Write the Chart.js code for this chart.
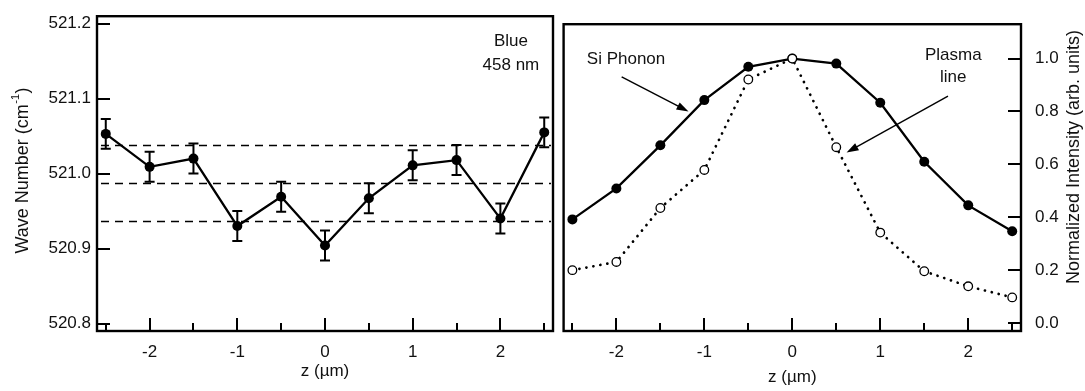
<!DOCTYPE html>
<html>
<head>
<meta charset="utf-8">
<script src="https://cdn.jsdelivr.net/npm/chart.js@4.4.1/dist/chart.umd.min.js"></script>
<style>
  html, body { margin: 0; padding: 0; background: #fff; }
  #wrap { position: relative; width: 1085px; height: 391px; }
  #waveCanvas { position: absolute; left: 0; top: 0; }
  #intensityCanvas { position: absolute; left: 558px; top: 0; }
</style>
</head>
<body>
<div id="wrap">
  <canvas id="waveCanvas" width="558" height="391"></canvas>
  <canvas id="intensityCanvas" width="527" height="391"></canvas>
</div>
<script>
// Depth positions of the focus (µm)
const zPositions = [-2.5, -2, -1.5, -1, -0.5, 0, 0.5, 1, 1.5, 2, 2.5];

// Si phonon peak position (cm^-1) and its uncertainty
const waveNumber = [521.053, 521.009, 521.020, 520.930, 520.969, 520.904, 520.967, 521.011, 521.018, 520.940, 521.055];
const waveError  = [0.020, 0.020, 0.020, 0.020, 0.020, 0.020, 0.020, 0.020, 0.020, 0.020, 0.020];
// Mean level and ± band
const waveLevels = [521.038, 520.987, 520.937];

// Normalized intensities
const siPhonon   = [0.392, 0.509, 0.672, 0.843, 0.969, 1.000, 0.981, 0.833, 0.610, 0.445, 0.347];
const plasmaLine = [0.200, 0.231, 0.435, 0.579, 0.921, 1.000, 0.665, 0.342, 0.196, 0.139, 0.097];

// Tick values
const zMarks         = [-2.5, -2, -1.5, -1, -0.5, 0, 0.5, 1, 1.5, 2, 2.5];
const zLabels        = [-2, -1, 0, 1, 2];
const waveTicks      = [520.8, 520.9, 521.0, 521.1, 521.2];
const intensityTicks = [0.0, 0.2, 0.4, 0.6, 0.8, 1.0];

const FONT = "'Liberation Sans', Arial, sans-serif";
const INK = '#111';

Chart.defaults.font.family = FONT;
Chart.defaults.color = INK;

// Frame, inward tick marks and axis titles
function framePlugin(opts) {
  return {
    id: 'frame_' + opts.name,
    afterDraw(chart) {
      const ctx = chart.ctx;
      const a = chart.chartArea;
      const xs = chart.scales.x, ys = chart.scales.y;
      ctx.save();
      ctx.strokeStyle = '#000';
      ctx.lineWidth = 2.4;
      ctx.lineCap = 'butt';
      ctx.strokeRect(a.left, a.top, a.right - a.left, a.bottom - a.top);
      ctx.lineWidth = 2;
      ctx.beginPath();
      xs.ticks.forEach(t => {
        const px = Math.round(xs.getPixelForValue(t.value));
        const len = zLabels.includes(t.value) ? 13 : 8;
        ctx.moveTo(px, a.bottom);
        ctx.lineTo(px, a.bottom - len);
      });
      ys.ticks.forEach(t => {
        const py = Math.round(ys.getPixelForValue(t.value));
        if (opts.ySide === 'left') {
          ctx.moveTo(a.left, py);
          ctx.lineTo(a.left + 13, py);
        } else {
          ctx.moveTo(a.right, py);
          ctx.lineTo(a.right - 13, py);
        }
      });
      ctx.stroke();

      // x title
      ctx.fillStyle = INK;
      ctx.font = '17px ' + FONT;
      ctx.textAlign = 'center';
      ctx.textBaseline = 'middle';
      ctx.fillText('z (\u00b5m)', xs.getPixelForValue(0), opts.xTitleY);

      // y title (rotated)
      ctx.translate(opts.yTitleX, opts.yTitleY);
      ctx.rotate(-Math.PI / 2);
      ctx.font = '18px ' + FONT;
      if (opts.yTitleSup) {
        const main = opts.yTitle, sup = opts.yTitleSup, tail = opts.yTitleTail;
        const wMain = ctx.measureText(main).width;
        ctx.font = '11px ' + FONT;
        const wSup = ctx.measureText(sup).width;
        ctx.font = '18px ' + FONT;
        const wTail = ctx.measureText(tail).width;
        let x0 = -(wMain + wSup + wTail + 1) / 2;
        ctx.textAlign = 'left';
        ctx.fillText(main, x0, 0);
        ctx.font = '11px ' + FONT;
        ctx.fillText(sup, x0 + wMain + 0.5, -7);
        ctx.font = '18px ' + FONT;
        ctx.fillText(tail, x0 + wMain + wSup + 1, 0);
      } else {
        ctx.fillText(opts.yTitle, 0, 0);
      }
      ctx.restore();
    }
  };
}

// Dashed reference levels and error bars for the peak position panel
const wavePanelPlugin = {
  id: 'wavePanel',
  beforeDatasetsDraw(chart) {
    const ctx = chart.ctx, a = chart.chartArea;
    const xs = chart.scales.x, ys = chart.scales.y;
    ctx.save();
    ctx.strokeStyle = '#000';
    ctx.lineWidth = 1.7;
    ctx.setLineDash([8, 6]);
    ctx.beginPath();
    waveLevels.forEach(v => {
      const py = Math.round(ys.getPixelForValue(v)) + 0.5;
      ctx.moveTo(a.left + 4, py);
      ctx.lineTo(a.right - 2, py);
    });
    ctx.stroke();
    ctx.setLineDash([]);
    ctx.lineWidth = 2;
    ctx.beginPath();
    zPositions.forEach((z, i) => {
      const px = xs.getPixelForValue(z);
      const yTop = ys.getPixelForValue(waveNumber[i] + waveError[i]);
      const yBot = ys.getPixelForValue(waveNumber[i] - waveError[i]);
      ctx.moveTo(px, yTop); ctx.lineTo(px, yBot);
      ctx.moveTo(px - 5, yTop); ctx.lineTo(px + 5, yTop);
      ctx.moveTo(px - 5, yBot); ctx.lineTo(px + 5, yBot);
    });
    ctx.stroke();
    ctx.restore();
  },
  afterDraw(chart) {
    const ctx = chart.ctx;
    const xs = chart.scales.x, ys = chart.scales.y;
    ctx.save();
    ctx.fillStyle = INK;
    ctx.font = '17px ' + FONT;
    ctx.textAlign = 'center';
    ctx.textBaseline = 'middle';
    ctx.fillText('Blue', xs.getPixelForValue(2.12), ys.getPixelForValue(521.177));
    ctx.fillText('458 nm', xs.getPixelForValue(2.12), ys.getPixelForValue(521.145));
    ctx.restore();
  }
};

function drawArrow(ctx, x0, y0, x1, y1) {
  const ang = Math.atan2(y1 - y0, x1 - x0);
  const L = 12, W = 4;
  ctx.beginPath();
  ctx.moveTo(x0, y0);
  ctx.lineTo(x1 - (L - 2) * Math.cos(ang), y1 - (L - 2) * Math.sin(ang));
  ctx.stroke();
  ctx.beginPath();
  ctx.moveTo(x1, y1);
  ctx.lineTo(x1 - L * Math.cos(ang) + W * Math.sin(ang), y1 - L * Math.sin(ang) - W * Math.cos(ang));
  ctx.lineTo(x1 - L * Math.cos(ang) - W * Math.sin(ang), y1 - L * Math.sin(ang) + W * Math.cos(ang));
  ctx.closePath();
  ctx.fill();
}

// Labels and pointer arrows for the intensity panel
const intensityPanelPlugin = {
  id: 'intensityPanel',
  afterDraw(chart) {
    const ctx = chart.ctx;
    const xs = chart.scales.x, ys = chart.scales.y;
    const P = (x, y) => [xs.getPixelForValue(x), ys.getPixelForValue(y)];
    ctx.save();
    ctx.fillStyle = INK;
    ctx.strokeStyle = '#000';
    ctx.lineWidth = 1.4;
    ctx.font = '17px ' + FONT;
    ctx.textAlign = 'center';
    ctx.textBaseline = 'middle';
    ctx.fillText('Si Phonon', ...P(-1.89, 0.998));
    ctx.fillText('Plasma', ...P(1.83, 1.012));
    ctx.fillText('line', ...P(1.83, 0.929));
    ctx.fillStyle = '#000';
    drawArrow(ctx, ...P(-1.94, 0.931), ...P(-1.18, 0.800));
    drawArrow(ctx, ...P(1.77, 0.858), ...P(0.617, 0.645));
    ctx.restore();
  }
};

function xScale() {
  return {
    type: 'linear', min: -2.6, max: 2.6,
    grid: { display: false, drawTicks: false },
    border: { display: false },
    afterBuildTicks: s => { s.ticks = zMarks.map(v => ({ value: v })); },
    afterFit: s => { s.height = 60; },
    ticks: {
      autoSkip: false, maxRotation: 0, padding: 11,
      font: { size: 17, family: FONT }, color: INK,
      callback: v => zLabels.includes(v) ? String(v) : ''
    }
  };
}

const common = {
  responsive: false,
  animation: false,
  events: [],
  plugins: { legend: { display: false }, tooltip: { enabled: false } }
};

new Chart(document.getElementById('waveCanvas'), {
  type: 'line',
  data: {
    datasets: [{
      data: zPositions.map((z, i) => ({ x: z, y: waveNumber[i] })),
      borderColor: '#000', borderWidth: 2.3,
      pointRadius: 5, pointBackgroundColor: '#000', pointBorderColor: '#000', pointBorderWidth: 0,
      tension: 0
    }]
  },
  options: {
    ...common,
    layout: { padding: { top: 10, right: 4, left: 0, bottom: 0 } },
    scales: {
      x: xScale(),
      y: {
        type: 'linear', position: 'left', min: 520.79, max: 521.21,
        grid: { display: false, drawTicks: false },
        border: { display: false },
        afterBuildTicks: s => { s.ticks = waveTicks.map(v => ({ value: v })); },
        afterFit: s => { s.width = 97; },
        ticks: { padding: 6, font: { size: 17, family: FONT }, color: INK, callback: v => v.toFixed(1) }
      }
    }
  },
  plugins: [wavePanelPlugin, framePlugin({
    name: 'wave', ySide: 'left', xTitleY: 371.5,
    yTitleX: 23, yTitleY: 170.5,
    yTitle: 'Wave Number (cm', yTitleSup: '-1', yTitleTail: ')'
  })]
});

new Chart(document.getElementById('intensityCanvas'), {
  type: 'line',
  data: {
    datasets: [{
      label: 'Plasma line',
      data: zPositions.map((z, i) => ({ x: z, y: plasmaLine[i] })),
      borderColor: '#000', borderWidth: 2.7, borderDash: [0.1, 7], borderCapStyle: 'round',
      pointRadius: 4.3, pointBackgroundColor: '#fff', pointBorderColor: '#000', pointBorderWidth: 1.3,
      tension: 0
    }, {
      label: 'Si Phonon',
      data: zPositions.map((z, i) => ({ x: z, y: siPhonon[i] })),
      borderColor: '#000', borderWidth: 2.3,
      pointRadius: 5, pointBackgroundColor: '#000', pointBorderColor: '#000', pointBorderWidth: 0,
      tension: 0
    }]
  },
  options: {
    ...common,
    layout: { padding: { top: 10, right: 0, left: 4, bottom: 0 } },
    scales: {
      x: xScale(),
      y: {
        type: 'linear', position: 'right', min: -0.03, max: 1.13,
        grid: { display: false, drawTicks: false },
        border: { display: false },
        afterBuildTicks: s => { s.ticks = intensityTicks.map(v => ({ value: v })); },
        afterFit: s => { s.width = 64; },
        ticks: { padding: 14, font: { size: 17, family: FONT }, color: INK, callback: v => v.toFixed(1) }
      }
    }
  },
  plugins: [intensityPanelPlugin, framePlugin({
    name: 'intensity', ySide: 'right', xTitleY: 377,
    yTitleX: 516, yTitleY: 157,
    yTitle: 'Normalized Intensity (arb. units)'
  })]
});
</script>
</body>
</html>
